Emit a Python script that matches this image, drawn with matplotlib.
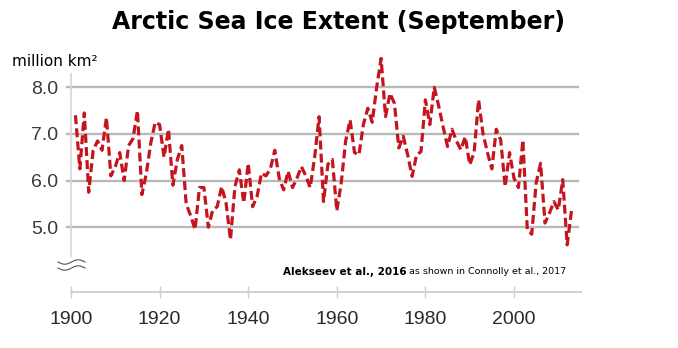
import numpy as np
import matplotlib
matplotlib.use('Agg')
import matplotlib.pyplot as plt
from matplotlib.lines import Line2D

# September Arctic sea ice extent, million km2 (Alekseev et al. 2016 reconstruction)
years = list(range(1901, 2014))
extent = [
    7.40, 6.25, 7.45, 5.75, 6.65, 6.85, 6.65, 7.35, 6.10, 6.30,   # 1901-1910
    6.60, 6.00, 6.75, 6.90, 7.50, 5.70, 6.15, 6.80, 7.25, 7.20,   # 1911-1920
    6.50, 7.10, 5.90, 6.45, 6.75, 5.50, 5.25, 4.95, 5.85, 5.85,   # 1921-1930
    5.00, 5.37, 5.44, 5.87, 5.52, 4.73, 5.87, 6.23, 5.52, 6.37,   # 1931-1940
    5.44, 5.66, 6.16, 6.10, 6.25, 6.65, 6.05, 5.80, 6.20, 5.85,   # 1941-1950
    6.05, 6.30, 6.10, 5.85, 6.50, 7.37, 5.55, 6.35, 6.45, 5.35,   # 1951-1960
    5.95, 6.85, 7.30, 6.60, 6.55, 7.20, 7.55, 7.25, 8.00, 8.62,   # 1961-1970
    7.37, 7.87, 7.66, 6.70, 6.95, 6.55, 6.09, 6.55, 6.62, 7.73,   # 1971-1980
    7.20, 8.00, 7.60, 7.15, 6.73, 7.10, 6.85, 6.66, 6.94, 6.34,   # 1981-1990
    6.60, 7.73, 7.01, 6.60, 6.25, 7.10, 6.87, 5.87, 6.60, 6.05,   # 1991-2000
    5.85, 6.87, 4.95, 4.85, 5.95, 6.37, 5.09, 5.30, 5.55, 5.37,   # 2001-2010
    6.02, 4.62, 5.37,                                             # 2011-2013
]

y_ticks = [5.0, 6.0, 7.0, 8.0]
y_labels = ['5.0', '6.0', '7.0', '8.0']
x_ticks = [1900, 1920, 1940, 1960, 1980, 2000]

W, H = 678, 348
tick_font = ['Liberation Sans', 'DejaVu Sans']

fig = plt.figure(figsize=(W / 100, H / 100), dpi=100)
ax = fig.add_axes([71 / W, 1 - 292 / H, 510 / W, 242 / H])
ax.set_xlim(1900, 1900 + 510 / 4.43)
ax.set_ylim(3.61, 8.80)

# horizontal grid
for v in y_ticks:
    ax.axhline(v, xmin=-4 / 510, xmax=507 / 510, color='#b9b9b9', lw=1.7,
               clip_on=False, zorder=1)

# left axis line, stops above the break mark
ax.vlines(1900, 4.35, 8.30, color='#d6d6d6', lw=1.2, zorder=1, clip_on=False)

for side in ['top', 'right', 'left']:
    ax.spines[side].set_visible(False)
ax.spines['bottom'].set_color('#d2d2d2')
ax.spines['bottom'].set_linewidth(1.5)

ax.plot(years, extent, color='#c4141e', lw=2.3, dashes=(2.8, 1.3),
        dash_capstyle='butt', zorder=3)

ax.set_yticks(y_ticks)
ax.set_yticklabels(y_labels, family=tick_font, fontsize=14, color='#3a3a3a')
ax.tick_params(axis='y', length=0, pad=9)
ax.set_xticks(x_ticks)
ax.set_xticklabels([str(t) for t in x_ticks], family=tick_font, fontsize=14,
                   color='#2a2a2a')
ax.tick_params(axis='x', direction='inout', length=9, width=1,
               color='#cfcfcf', pad=9)

# axis break mark below the y axis
t = np.linspace(0, 1, 60)
for yb in (262, 268):
    xs = (58 + 27 * t) / W
    ys = 1 - (yb + 2.2 * np.sin(t * 2 * np.pi)) / H
    fig.add_artist(Line2D(xs, ys, color='#555555', lw=0.8))

fig.text(0.5, 1 - 22 / H, 'Arctic Sea Ice Extent (September)', ha='center',
         va='center', fontsize=17, fontweight='bold', color='black')
fig.text(12 / W, 1 - 62 / H, 'million km²', ha='left', va='center',
         fontsize=11, color='black')

fig.text(283 / W, 1 - 272 / H, 'Alekseev et al., 2016', ha='left',
         va='center', fontsize=7.5, fontweight='bold', color='black')
fig.text(409 / W, 1 - 272 / H, 'as shown in Connolly et al., 2017',
         ha='left', va='center', fontsize=6.8, color='black')

fig.savefig('out.png', dpi=100, facecolor='white')
